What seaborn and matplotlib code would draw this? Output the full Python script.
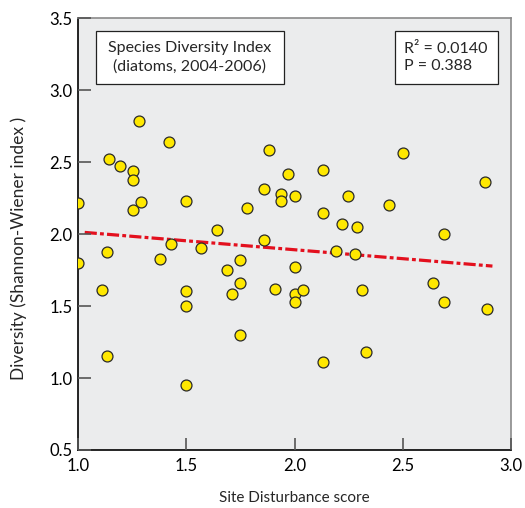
import matplotlib
matplotlib.use("Agg")
import matplotlib.pyplot as plt
from matplotlib.patches import Rectangle
import seaborn as sns
import pandas as pd

disturbance = [1.000, 1.000, 1.109, 1.131, 1.133, 1.140, 1.191, 1.251, 1.251, 1.251,
               1.279, 1.291, 1.380, 1.419, 1.431, 1.499, 1.499, 1.499, 1.499, 1.569,
               1.641, 1.690, 1.710, 1.749, 1.749, 1.749, 1.781, 1.861, 1.861, 1.881,
               1.911, 1.939, 1.939, 1.970, 2.001, 2.001, 2.001, 2.001, 2.041, 2.130,
               2.130, 2.130, 2.190, 2.219, 2.248, 2.279, 2.290, 2.310, 2.330, 2.439,
               2.501, 2.641, 2.691, 2.691, 2.880, 2.890]
diversity = [2.217, 1.796, 1.611, 1.873, 1.153, 2.521, 2.472, 2.440, 2.373, 2.167,
             2.787, 2.222, 1.824, 2.641, 1.931, 2.231, 1.606, 1.500, 0.951, 1.903,
             2.032, 1.750, 1.581, 1.822, 1.662, 1.299, 2.183, 2.313, 1.958, 2.583,
             1.620, 2.278, 2.231, 2.421, 2.262, 1.773, 1.583, 1.530, 1.609, 2.449,
             2.148, 1.109, 1.884, 2.069, 2.262, 1.861, 2.051, 1.611, 1.181, 2.201,
             2.567, 1.662, 2.002, 1.530, 2.361, 1.481]

fit_x = [1.03, 2.915]
fit_y = [2.012, 1.778]

x_ticks = [1.0, 1.5, 2.0, 2.5, 3.0]
y_ticks = [0.5, 1.0, 1.5, 2.0, 2.5, 3.0, 3.5]

sns.set_theme(style="ticks", rc={"xtick.direction": "in", "ytick.direction": "in",
                                 "xtick.major.size": 9, "ytick.major.size": 9,
                                 "xtick.major.width": 1.2, "ytick.major.width": 1.2,
                                 "xtick.color": "#555555", "ytick.color": "#555555",
                                 "xtick.labelcolor": "black", "ytick.labelcolor": "black",
                                 "axes.axisbelow": False})
plt.rcParams['font.family'] = ['Lato', 'DejaVu Sans']

df = pd.DataFrame({"x": disturbance, "y": diversity})
fit_df = pd.DataFrame({"x": fit_x, "y": fit_y})

fig = plt.figure(figsize=(5.25, 5.08), dpi=100)
ax = fig.add_axes([0.149, 0.1142, 0.824, 0.8498])
ax.set_facecolor("#ebeced")

sns.lineplot(data=fit_df, x="x", y="y", ax=ax, color="#e3101e", linewidth=2.3,
             zorder=2)
ax.lines[0].set_dashes([3.8, 1.0, 1.2, 1.0])

sns.scatterplot(data=df, x="x", y="y", ax=ax, color="#ffe800", edgecolor="#2a2a2a",
                linewidth=0.9, s=62, zorder=3)

ax.set_xlim(1.0, 3.0)
ax.set_ylim(0.5, 3.5)
ax.set_xticks(x_ticks)
ax.set_yticks(y_ticks)
ax.set_xticklabels([f"{v:.1f}" for v in x_ticks], fontsize=12)
ax.set_yticklabels([f"{v:.1f}" for v in y_ticks], fontsize=12)
ax.tick_params(axis="both", which="major", bottom=True, left=True, top=False, right=False,
               direction="in", length=9, width=1.2, color="#555555", pad=4)
ax.tick_params(axis="x", pad=6)

ax.set_xlabel("Site Disturbance score", fontsize=11, labelpad=12)
ax.set_ylabel("Diversity (Shannon-Wiener index )", fontsize=12.5)
ax.yaxis.set_label_coords(-0.118, 0.468)

for side in ["left", "bottom"]:
    ax.spines[side].set_color("black")
    ax.spines[side].set_linewidth(1.2)
for side in ["top", "right"]:
    ax.spines[side].set_visible(True)
    ax.spines[side].set_color("#8a8a8a")
    ax.spines[side].set_linewidth(1.2)

ax.add_patch(Rectangle((0.041, 0.848), 0.434, 0.123, transform=ax.transAxes,
                       facecolor="white", edgecolor="#222222", linewidth=0.9, zorder=4))
ax.add_patch(Rectangle((0.732, 0.848), 0.238, 0.123, transform=ax.transAxes,
                       facecolor="white", edgecolor="#222222", linewidth=0.9, zorder=4))
ax.text(0.258, 0.9095, "Species Diversity Index\n(diatoms, 2004-2006)", transform=ax.transAxes,
        ha="center", va="center", fontsize=11.5, linespacing=1.3, zorder=6)
ax.text(0.752, 0.9095, "R² = 0.0140\nP = 0.388", transform=ax.transAxes,
        ha="left", va="center", fontsize=11.5, linespacing=1.3, zorder=6)

fig.savefig("out.png", dpi=100)
